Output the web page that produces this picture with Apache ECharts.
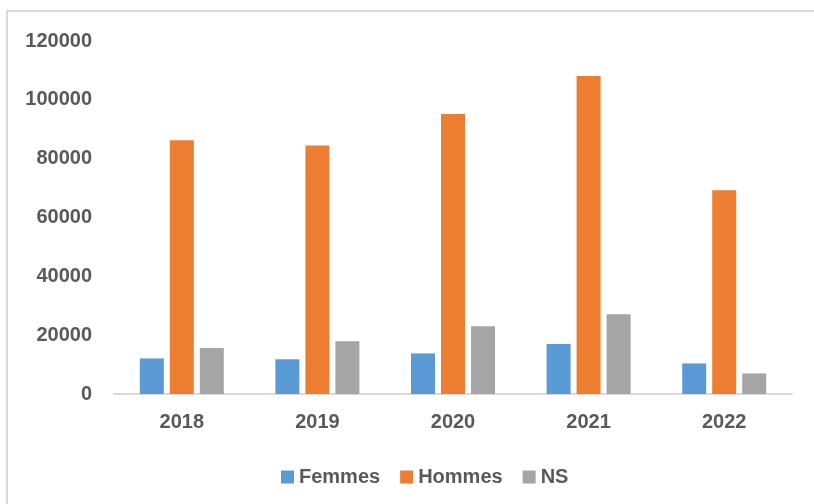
<!DOCTYPE html>
<html>
<head>
<meta charset="utf-8">
<script src="https://cdn.jsdelivr.net/npm/echarts@6/dist/echarts.min.js"></script>
<style>
  html, body { margin: 0; padding: 0; background: #fff; }
  #main { width: 814px; height: 504px; }
</style>
</head>
<body>
<div id="main"></div>
<script>
var years = ['2018', '2019', '2020', '2021', '2022'];
var femmes = [12100, 11800, 13800, 17000, 10400];
var hommes = [86300, 84500, 95200, 108100, 69300];
var ns = [15600, 17900, 23000, 27100, 7000];

var font = '"Liberation Sans Narrow", "Arial Narrow", "Liberation Sans", Arial, sans-serif';
var textColor = '#595959';

var chart = echarts.init(document.getElementById('main'));

function bar(name, data, color) {
  return {
    name: name,
    type: 'bar',
    data: data,
    barWidth: 24,
    barGap: '25%',
    itemStyle: { color: color }
  };
}

var option = {
  backgroundColor: '#ffffff',
  animation: false,
  graphic: [{
    type: 'rect',
    shape: { x: 7, y: 11, width: 900, height: 600 },
    style: { fill: 'none', stroke: '#d9d9d9', lineWidth: 2 }
  }],
  grid: { left: 114, right: 22, top: 41, bottom: 110 },
  legend: {
    top: 462,
    left: 276,
    itemWidth: 13,
    itemHeight: 13,
    itemGap: 20,
    icon: 'rect',
    textStyle: { color: textColor, fontFamily: font, fontWeight: 'bold', fontSize: 20 },
    data: ['Femmes', 'Hommes', 'NS']
  },
  xAxis: {
    type: 'category',
    data: years,
    axisLine: { lineStyle: { color: '#d9d9d9', width: 2 } },
    axisTick: { show: false },
    axisLabel: { color: textColor, fontFamily: font, fontWeight: 'bold', fontSize: 20, margin: 18 }
  },
  yAxis: {
    type: 'value',
    min: 0,
    max: 120000,
    interval: 20000,
    splitLine: { show: false },
    axisLine: { show: false },
    axisTick: { show: false },
    axisLabel: {
      color: textColor, fontFamily: font, fontWeight: 'bold', fontSize: 20, margin: 22,
      formatter: function (v) { return String(v); }
    }
  },
  series: [
    bar('Femmes', femmes, '#5b9bd5'),
    bar('Hommes', hommes, '#ed7d31'),
    bar('NS', ns, '#a5a5a5')
  ]
};

chart.setOption(option);
</script>
</body>
</html>
